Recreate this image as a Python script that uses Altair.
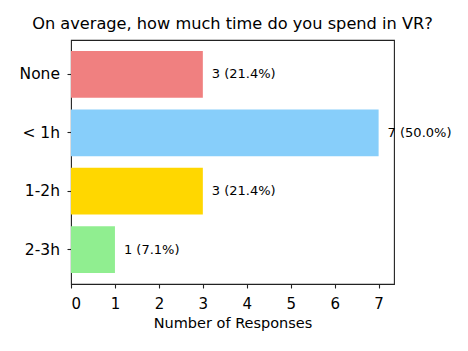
import altair as alt
import pandas as pd

categories = ["None", "< 1h", "1-2h", "2-3h"]
counts = [3, 7, 3, 1]
colors = ["#F08080", "#87CEFA", "#FFD700", "#90EE90"]

total = sum(counts)
labels = [f"{c} ({c / total * 100:.1f}%)" for c in counts]
df = pd.DataFrame({"cat": categories, "n": counts, "label": labels, "color": colors})

FONT = "DejaVu Sans"

y_enc = alt.Y(
    "cat:N",
    sort=categories,
    title=None,
    scale=alt.Scale(paddingInner=0.2, paddingOuter=0.19),
    axis=alt.Axis(
        labelFont=FONT, labelFontSize=15.5, labelColor="black",
        tickColor="#222", tickSize=4, tickWidth=1.1, labelPadding=7.5,
        domain=False,
    ),
)
x_enc = alt.X(
    "n:Q",
    title="Number of Responses",
    scale=alt.Scale(domain=[0, 7.35], nice=False, zero=True),
    axis=alt.Axis(
        values=[0, 1, 2, 3, 4, 5, 6, 7], format="d", grid=False,
        labelFont=FONT, labelFontSize=15, labelColor="black",
        tickColor="#222", tickSize=4, tickWidth=1.1, labelPadding=8,
        titleFont=FONT, titleFontSize=14.5, titleFontWeight="normal",
        titleColor="black", titlePadding=5, domain=False,
    ),
)

bars = alt.Chart(df).mark_bar().encode(
    y=y_enc,
    x=x_enc,
    color=alt.Color("color:N", scale=None, legend=None),
)

text = alt.Chart(df).mark_text(
    align="left", baseline="middle", dx=9, font=FONT, fontSize=13, color="black"
).encode(
    y=alt.Y("cat:N", sort=categories),
    x=alt.X("n:Q"),
    text="label:N",
)

chart = (
    alt.layer(bars, text)
    .properties(
        width=323,
        height=244,
        background="white",
        title=alt.TitleParams(
            "On average, how much time do you spend in VR?",
            font=FONT, fontSize=16.2, fontWeight="normal", color="black",
            anchor="middle", offset=8,
        ),
        autosize=alt.AutoSizeParams(type="none"),
        padding={"left": 71, "top": 40, "right": 74, "bottom": 67},
    )
    .configure_view(stroke="#222", strokeWidth=1.1)
)

chart.save("out.html", embed_options={"renderer": "svg", "actions": False})
